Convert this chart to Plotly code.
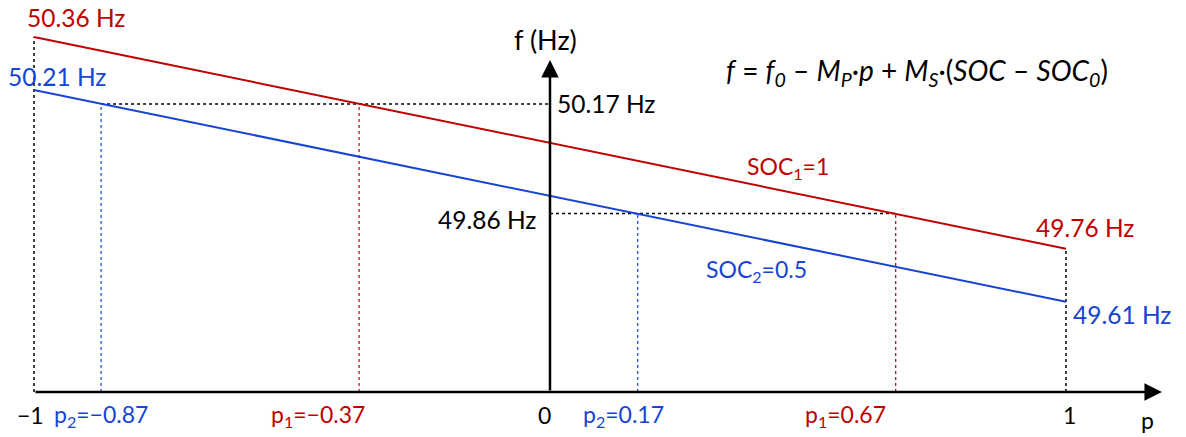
import plotly.graph_objects as go

# ---- data ----
p_ends = [-1, 1]
f_soc1 = [50.36, 49.76]          # SOC1 = 1
f_soc2 = [50.21, 49.61]          # SOC2 = 0.5
f_levels = [50.17, 49.86]        # operating frequencies
p1_vals = [-0.37, 0.67]          # SOC1 operating points
p2_vals = [-0.87, 0.17]          # SOC2 operating points
soc_labels = ["SOC<sub>1</sub>=1", "SOC<sub>2</sub>=0.5"]

RED = "#C00000"
BLUE = "#1645D3"
BLACK = "#000000"
FONT = "Lato"
FS = 23
FS_HZ = 24.5

# ---- layout constants (positions only) ----
X_RANGE = [-1.0659, 1.2326]
Y_RANGE = [49.2269, 50.4648]
BASE_F = 49.3543
AXIS_TOP_F = 50.2948
AXIS_END_P = 1.186

fig = go.Figure()

def seg(x, y, color, width, dash="solid"):
    fig.add_trace(go.Scatter(x=x, y=y, mode="lines", hoverinfo="skip",
                             line=dict(color=color, width=width, dash=dash),
                             showlegend=False))

# dotted black verticals at p=-1 and p=1
seg([p_ends[0], p_ends[0]], [BASE_F, f_soc1[0]], BLACK, 1.5, "dot")
seg([p_ends[1], p_ends[1]], [BASE_F, f_soc1[1]], BLACK, 1.5, "dot")
# horizontal dotted lines to the operating frequencies
seg([p2_vals[0], 0], [f_levels[0], f_levels[0]], BLACK, 1.5, "dot")
seg([0, p1_vals[1]], [f_levels[1], f_levels[1]], BLACK, 1.5, "dot")
# vertical dotted drops
seg([p1_vals[0], p1_vals[0]], [BASE_F, f_levels[0]], RED, 1.2, "dot")
seg([p1_vals[1], p1_vals[1]], [BASE_F, f_levels[1]], RED, 1.2, "dot")
seg([p2_vals[0], p2_vals[0]], [BASE_F, f_levels[0]], BLUE, 1.2, "dot")
seg([p2_vals[1], p2_vals[1]], [BASE_F, f_levels[1]], BLUE, 1.2, "dot")
# droop lines
seg(p_ends, f_soc1, RED, 2)
seg(p_ends, f_soc2, BLUE, 2)

ann = []
# axes with arrows
ann.append(dict(x=AXIS_END_P, y=BASE_F, ax=p_ends[0], ay=BASE_F, xref="x", yref="y",
                axref="x", ayref="y", text="", showarrow=True, arrowhead=2,
                arrowsize=1.4, arrowwidth=2.5, arrowcolor=BLACK, standoff=0))
ann.append(dict(x=0, y=AXIS_TOP_F, ax=0, ay=BASE_F, xref="x", yref="y",
                axref="x", ayref="y", text="", showarrow=True, arrowhead=2,
                arrowsize=1.4, arrowwidth=2.5, arrowcolor=BLACK, standoff=0))

def lab(x, y, text, color, xanchor="center", xshift=0, yshift=0, xref="x", yref="y", size=FS):
    ann.append(dict(x=x, y=y, xref=xref, yref=yref, text=text, showarrow=False,
                    xanchor=xanchor, yanchor="middle", xshift=xshift, yshift=yshift,
                    font=dict(family=FONT, size=size, color=color)))

def hz(v):
    return f"{v:.2f} Hz"

lab(p_ends[0], f_soc1[0], hz(f_soc1[0]), RED, xshift=42, yshift=20, size=FS_HZ)
lab(p_ends[0], f_soc2[0], hz(f_soc2[0]), BLUE, xshift=23, yshift=13, size=FS_HZ)
lab(p_ends[1], f_soc1[1], hz(f_soc1[1]), RED, xshift=19, yshift=21, size=FS_HZ)
lab(p_ends[1], f_soc2[1], hz(f_soc2[1]), BLUE, xanchor="left", xshift=5, yshift=-13, size=FS_HZ)
lab(0, f_levels[0], hz(f_levels[0]), BLACK, xanchor="left", xshift=5, yshift=1, size=FS_HZ)
lab(0, f_levels[1], hz(f_levels[1]), BLACK, xanchor="right", xshift=-12, yshift=-6, size=FS_HZ)
lab(0, AXIS_TOP_F, "f (Hz)", BLACK, xshift=-4, yshift=21, size=27)

# SOC labels
lab(788 / 1186, 1 - 167 / 437, soc_labels[0], RED, xref="paper", yref="paper")
lab(756 / 1186, 1 - 270 / 437, soc_labels[1], BLUE, xref="paper", yref="paper")

# formula
lab(917 / 1186, 1 - 72 / 437,
    "<i>f</i> = <i>f<sub>0</sub></i> – <i>M<sub>P</sub></i>·<i>p</i> + <i>M<sub>S</sub></i>·(<i>SOC</i> – <i>SOC<sub>0</sub></i>)",
    BLACK, xref="paper", yref="paper", size=28)

# bottom tick labels
def fmt(v):
    return f"{v:.2f}".replace("-", "−")

lab(p_ends[0], BASE_F, "−1", BLACK, xshift=-4, yshift=-23)
lab(p2_vals[0], BASE_F, f"p<sub>2</sub>={fmt(p2_vals[0])}", BLUE, yshift=-23)
lab(p1_vals[0], BASE_F, f"p<sub>1</sub>={fmt(p1_vals[0])}", RED, xanchor="right", xshift=8, yshift=-23)
lab(0, BASE_F, "0", BLACK, xshift=-5, yshift=-23)
lab(p2_vals[1], BASE_F, f"p<sub>2</sub>={fmt(p2_vals[1])}", BLUE, xshift=-14, yshift=-23)
lab(p1_vals[1], BASE_F, f"p<sub>1</sub>={fmt(p1_vals[1])}", RED, xanchor="right", xshift=-8, yshift=-23)
lab(p_ends[1], BASE_F, "1", BLACK, xshift=4, yshift=-23)
lab(AXIS_END_P, BASE_F, "p", BLACK, xshift=-14, yshift=-28)

fig.update_layout(
    width=1186, height=437, autosize=False,
    margin=dict(l=0, r=0, t=0, b=0),
    paper_bgcolor="white", plot_bgcolor="white",
    xaxis=dict(range=X_RANGE, visible=False, fixedrange=True),
    yaxis=dict(range=Y_RANGE, visible=False, fixedrange=True),
    annotations=ann,
    font=dict(family=FONT, size=FS),
)

fig.write_html("out.html")
